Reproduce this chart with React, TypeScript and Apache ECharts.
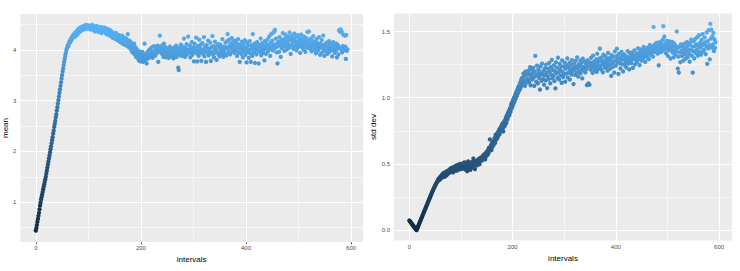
import React, { useEffect, useRef } from "react";
import * as echarts from "echarts";

// ---- data ----
const meanValues: number[] = [
  0.44,0.49,0.55,0.61,0.67,0.73,0.79,0.86,0.93,0.99,
  1.05,1.10,1.15,1.20,1.25,1.30,1.35,1.40,1.45,1.50,
  1.56,1.62,1.68,1.74,1.80,1.86,1.92,1.98,2.04,2.10,
  2.16,2.22,2.28,2.35,2.41,2.48,2.54,2.60,2.67,2.73,
  2.80,2.87,2.94,3.01,3.08,3.15,3.22,3.29,3.36,3.43,
  3.50,3.57,3.63,3.70,3.76,3.82,3.88,3.93,3.98,4.02,
  4.05,4.09,4.07,4.13,4.16,4.14,4.20,4.22,4.19,4.25,
  4.27,4.24,4.30,4.29,4.33,4.26,4.35,4.32,4.37,4.30,
  4.38,4.41,4.34,4.40,4.43,4.36,4.42,4.45,4.39,4.44,
  4.46,4.40,4.47,4.43,4.48,4.41,4.49,4.44,4.46,4.42,
  4.48,4.45,4.43,4.47,4.40,4.46,4.44,4.49,4.42,4.45,
  4.38,4.46,4.43,4.36,4.44,4.41,4.47,4.39,4.42,4.35,
  4.43,4.40,4.37,4.45,4.41,4.33,4.39,4.42,4.36,4.44,
  4.40,4.35,4.43,4.38,4.31,4.41,4.37,4.34,4.40,4.29,
  4.36,4.33,4.38,4.27,4.35,4.31,4.24,4.34,4.29,4.32,
  4.22,4.30,4.27,4.33,4.20,4.28,4.25,4.18,4.29,4.23,
  4.26,4.15,4.24,4.20,4.28,4.12,4.21,4.17,4.24,4.10,
  4.19,4.14,4.22,4.08,4.16,4.31,4.11,4.05,4.18,4.13,
  4.02,4.15,4.08,3.96,4.10,4.04,3.93,4.12,3.98,3.90,
  4.05,3.86,3.95,4.00,3.84,3.92,3.79,3.97,3.88,3.77,
  3.93,3.82,3.86,3.96,3.76,3.89,3.84,4.12,3.91,3.80,
  3.87,3.73,3.95,3.88,3.83,3.99,3.90,3.86,4.02,3.93,
  3.89,4.05,3.84,3.97,3.92,4.07,3.95,3.88,4.00,4.04,
  3.93,3.98,4.08,3.76,4.01,3.96,4.28,4.06,3.99,4.03,
  3.92,4.09,4.01,3.86,4.12,3.97,3.91,4.05,3.85,3.94,
  3.89,4.02,3.95,3.84,3.99,4.06,3.88,3.93,4.03,3.87,
  3.96,4.00,3.83,3.98,4.05,3.90,3.94,4.08,3.86,4.01,
  3.92,3.65,3.60,4.04,3.97,3.89,4.10,3.95,4.02,3.88,
  4.06,3.93,4.22,3.99,3.86,4.04,3.96,4.11,3.91,4.00,
  4.26,3.94,3.98,4.08,3.85,4.03,3.95,4.15,3.90,3.99,
  4.05,3.77,4.12,3.96,4.02,4.24,3.93,3.77,4.07,3.98,
  3.88,4.20,4.04,3.95,4.10,3.78,3.99,4.13,3.92,4.01,
  4.25,3.87,4.06,3.97,3.76,4.09,3.94,4.03,4.18,3.89,
  4.00,3.93,4.14,3.78,4.05,3.96,4.27,3.91,4.07,3.85,
  4.02,4.16,3.94,3.99,3.80,4.08,3.95,4.11,3.90,4.04,
  3.87,4.10,3.97,4.03,3.92,4.21,3.98,3.86,4.06,4.00,
  3.93,4.14,4.05,3.89,4.17,4.31,4.02,3.96,4.20,4.08,
  3.91,4.12,4.04,4.23,3.97,4.15,4.01,4.09,3.94,4.18,
  4.06,3.99,4.13,3.88,4.03,4.21,3.95,4.10,3.76,4.02,
  4.07,3.92,4.16,4.00,3.85,4.11,3.97,4.05,4.19,3.90,
  4.03,3.75,4.14,3.96,4.08,3.84,4.00,4.17,3.93,3.76,
  4.09,4.02,3.88,4.31,4.05,3.95,4.12,3.74,4.01,4.07,
  3.91,4.15,4.04,3.98,3.73,4.10,3.96,4.06,4.22,3.89,
  4.01,4.13,3.94,4.08,4.00,3.79,4.17,4.03,3.92,4.11,
  4.05,4.20,3.97,4.09,4.26,4.02,3.88,4.14,4.31,4.06,
  4.18,3.99,4.34,4.10,4.36,4.39,4.04,4.22,3.95,4.12,
  3.73,4.07,4.16,3.96,4.25,4.09,3.86,4.19,4.03,4.13,
  4.33,4.06,4.21,3.98,4.15,4.30,4.08,4.24,4.01,4.17,
  4.11,4.26,4.04,4.34,4.19,3.92,4.22,4.09,4.28,4.14,
  4.02,4.20,4.32,4.07,4.16,4.25,3.99,4.12,4.29,4.05,
  4.18,4.10,4.23,3.94,4.15,4.30,4.06,4.21,4.11,4.01,
  4.26,4.08,4.17,3.96,4.24,4.13,4.04,4.35,4.19,4.07,
  4.36,4.14,4.02,4.22,4.09,3.97,4.18,4.06,4.27,4.11,
  4.00,4.15,4.08,3.93,4.21,4.04,4.13,3.98,4.10,4.25,
  4.03,3.90,4.12,4.06,4.19,3.95,4.08,4.28,4.01,3.88,
  4.10,4.04,3.97,4.14,4.07,3.92,4.11,4.02,4.17,3.96,
  4.06,4.13,3.99,4.09,3.87,4.03,4.15,4.00,4.08,3.94,
  4.05,3.98,4.12,3.85,4.02,4.09,3.91,4.38,4.04,4.35,
  4.40,4.01,4.36,3.95,4.07,4.30,3.99,4.03,4.28,4.06,
  3.82,4.29,3.98,4.01,
];

const sdValues: number[] = [
  0.073,0.068,0.063,0.057,0.052,0.047,0.042,0.037,0.031,0.026,
  0.021,0.016,0.010,0.005,0.000,0.010,0.019,0.029,0.038,0.048,
  0.057,0.067,0.076,0.086,0.095,0.105,0.114,0.124,0.133,0.143,
  0.152,0.162,0.171,0.181,0.190,0.200,0.209,0.219,0.228,0.238,
  0.247,0.257,0.266,0.276,0.285,0.295,0.303,0.312,0.320,0.328,
  0.336,0.344,0.352,0.358,0.367,0.372,0.385,0.376,0.392,0.398,
  0.384,0.405,0.412,0.396,0.421,0.408,0.430,0.418,0.402,0.435,
  0.424,0.441,0.413,0.437,0.448,0.426,0.452,0.433,0.445,0.462,
  0.438,0.455,0.471,0.447,0.459,0.436,0.466,0.480,0.452,0.470,
  0.461,0.487,0.449,0.476,0.493,0.466,0.482,0.458,0.500,0.473,
  0.488,0.462,0.495,0.478,0.505,0.469,0.484,0.512,0.458,0.491,
  0.476,0.503,0.445,0.488,0.520,0.467,0.495,0.482,0.455,0.509,
  0.490,0.472,0.515,0.498,0.541,0.483,0.506,0.461,0.521,0.495,
  0.512,0.489,0.528,0.504,0.537,0.516,0.498,0.545,0.523,0.532,
  0.551,0.527,0.544,0.563,0.538,0.572,0.549,0.535,0.581,0.560,
  0.592,0.566,0.603,0.578,0.621,0.597,0.685,0.612,0.640,0.604,
  0.655,0.628,0.671,0.643,0.662,0.695,0.658,0.720,0.681,0.704,
  0.731,0.697,0.742,0.718,0.760,0.726,0.771,0.749,0.785,0.755,
  0.802,0.768,0.745,0.815,0.783,0.830,0.796,0.852,0.812,0.868,
  0.836,0.885,0.858,0.902,0.871,0.921,0.893,0.948,0.917,0.965,
  0.936,0.984,0.958,1.003,0.975,1.021,0.994,1.042,1.012,1.060,
  1.031,1.078,1.048,1.095,1.062,1.117,1.080,1.138,1.096,1.152,
  1.108,1.183,1.122,1.164,1.090,1.198,1.135,1.172,1.115,1.190,
  1.142,1.205,1.118,1.176,1.231,1.094,1.163,1.212,1.138,1.187,
  1.225,1.152,1.089,1.198,1.316,1.167,1.121,1.243,1.176,1.108,
  1.214,1.149,1.195,1.062,1.236,1.172,1.127,1.258,1.183,1.141,
  1.206,1.098,1.169,1.224,1.131,1.250,1.188,1.073,1.162,1.217,
  1.139,1.263,1.195,1.108,1.232,1.174,1.286,1.147,1.211,1.166,
  1.245,1.125,1.199,1.071,1.268,1.184,1.227,1.150,1.302,1.193,
  1.138,1.256,1.211,1.169,1.238,1.112,1.282,1.197,1.156,1.234,
  1.178,1.265,1.121,1.219,1.246,1.183,1.297,1.152,1.230,1.192,
  1.264,1.137,1.212,1.249,1.175,1.284,1.198,1.226,1.103,1.258,
  1.215,1.173,1.278,1.236,1.189,1.305,1.221,1.160,1.252,1.197,
  1.240,1.281,1.184,1.262,1.218,1.146,1.295,1.233,1.206,1.272,
  1.225,1.191,1.258,1.215,1.095,1.283,1.237,1.108,1.269,1.098,
  1.246,1.212,1.301,1.229,1.264,1.187,1.318,1.241,1.273,1.206,
  1.258,1.225,1.289,1.196,1.332,1.247,1.270,1.219,1.296,1.370,
  1.238,1.281,1.213,1.305,1.257,1.192,1.326,1.245,1.279,1.228,
  1.312,1.262,1.231,1.294,1.204,1.338,1.271,1.247,1.300,1.219,
  1.286,1.165,1.322,1.259,1.232,1.308,1.270,1.189,1.349,1.281,
  1.243,1.315,1.370,1.267,1.296,1.180,1.331,1.262,1.300,1.221,
  1.284,1.346,1.254,1.318,1.199,1.290,1.327,1.247,1.305,1.272,
  1.230,1.311,1.283,1.352,1.258,1.298,1.214,1.336,1.275,1.310,
  1.262,1.340,1.289,1.226,1.321,1.297,1.358,1.251,1.316,1.283,
  1.335,1.268,1.304,1.373,1.290,1.322,1.247,1.347,1.310,1.365,
  1.281,1.329,1.356,1.298,1.384,1.316,1.342,1.270,1.361,1.325,
  1.350,1.303,1.378,1.336,1.291,1.362,1.398,1.324,1.355,1.387,
  1.339,1.371,1.310,1.534,1.365,1.402,1.347,1.380,1.358,1.415,
  1.376,1.332,1.395,1.245,1.361,1.420,1.383,1.344,1.408,1.371,
  1.354,1.438,1.540,1.390,1.462,1.367,1.412,1.336,1.385,1.430,
  1.372,1.315,1.401,1.357,1.425,1.383,1.296,1.398,1.364,1.421,
  1.341,1.387,1.305,1.410,1.359,1.326,1.392,1.348,1.500,1.375,
  1.220,1.310,1.190,1.384,1.342,1.268,1.403,1.356,1.315,1.390,
  1.347,1.281,1.371,1.409,1.328,1.295,1.382,1.349,1.420,1.306,
  1.365,1.398,1.330,1.272,1.411,1.357,1.438,1.318,1.384,1.190,
  1.352,1.426,1.297,1.389,1.445,1.336,1.402,1.363,1.458,1.318,
  1.390,1.472,1.345,1.413,1.378,1.325,1.436,1.395,1.481,1.350,
  1.404,1.362,1.455,1.418,1.330,1.389,1.493,1.256,1.427,1.372,
  1.510,1.398,1.290,1.558,1.446,1.515,1.379,1.463,1.402,1.490,
  1.352,1.441,1.376,1.420,
];

const intervals: number[] = meanValues.map((_, i) => i);

const xTicks = [0, 200, 400, 600];
const xMinor = [100, 300, 500];
const meanTicks = [1, 2, 3, 4];
const meanMinor = [0.5, 1.5, 2.5, 3.5, 4.5];
const sdTicks = [0, 0.5, 1.0, 1.5];
const sdMinor = [0.25, 0.75, 1.25];

const xTitle = "intervals";
const meanTitle = "mean";
const sdTitle = "std dev";

const gradient = ["#132B43", "#336A98", "#56B1F7"];
const FONT = "'Liberation Sans', Arial, Helvetica, sans-serif";

function gridLines(xMajor: number[], xMin: number[], yMajor: number[], yMin: number[]) {
  const major = { color: "#FFFFFF", width: 1.1, type: "solid" as const };
  const minor = { color: "#FFFFFF", width: 0.55, type: "solid" as const };
  return [
    ...xMin.map((v) => ({ xAxis: v, lineStyle: minor })),
    ...yMin.map((v) => ({ yAxis: v, lineStyle: minor })),
    ...xMajor.map((v) => ({ xAxis: v, lineStyle: major })),
    ...yMajor.map((v) => ({ yAxis: v, lineStyle: major })),
  ];
}

function axisCommon(ticks: number[], labelFmt: (v: number) => string, margin: number) {
  return {
    axisLine: { show: false },
    splitLine: { show: false },
    axisTick: {
      show: true,
      length: 2.5,
      customValues: ticks,
      lineStyle: { color: "#333333", width: 0.7 },
    },
    axisLabel: {
      customValues: ticks,
      color: "#4D4D4D",
      fontSize: 6,
      fontFamily: FONT,
      margin,
      formatter: (v: number) => labelFmt(v),
    },
  };
}

export default function App() {
  const ref = useRef<HTMLDivElement>(null);
  useEffect(() => {
    if (!ref.current) return;
    const chart = echarts.init(ref.current, undefined, { renderer: "svg" });
    const meanData = intervals.map((x, i) => [x, meanValues[i]]);
    const sdData = intervals.map((x, i) => [x, sdValues[i]]);
    const nameStyle = { color: "#000000", fontSize: 8, fontFamily: FONT };
    const option: any = {
      animation: false,
      backgroundColor: "#FFFFFF",
      textStyle: { fontFamily: FONT },
      grid: [
        { left: 15, top: 14, width: 348, height: 228, show: true, backgroundColor: "#EBEBEB", borderWidth: 0 },
        { left: 394, top: 13.5, width: 338, height: 227, show: true, backgroundColor: "#EBEBEB", borderWidth: 0 },
      ],
      xAxis: [
        {
          gridIndex: 0, type: "value", min: -29.65, max: 622.65,
          name: xTitle, nameLocation: "middle", nameGap: 11, nameTextStyle: nameStyle,
          ...axisCommon(xTicks, (v) => String(v), 3),
        },
        {
          gridIndex: 1, type: "value", min: -29.7, max: 625,
          name: xTitle, nameLocation: "middle", nameGap: 12, nameTextStyle: nameStyle,
          ...axisCommon(xTicks, (v) => String(v), 3),
        },
      ],
      yAxis: [
        {
          gridIndex: 0, type: "value", min: 0.2155, max: 4.7045,
          name: meanTitle, nameLocation: "middle", nameGap: 7.5, nameTextStyle: nameStyle,
          ...axisCommon(meanTicks, (v) => String(v), 4),
        },
        {
          gridIndex: 1, type: "value", min: -0.078, max: 1.636,
          name: sdTitle, nameLocation: "middle", nameGap: 13, nameTextStyle: nameStyle,
          ...axisCommon(sdTicks, (v) => v.toFixed(1), 4),
        },
      ],
      visualMap: [
        {
          type: "continuous", show: false, seriesIndex: 0, dimension: 1,
          min: Math.min(...meanValues), max: Math.max(...meanValues),
          inRange: { color: gradient },
        },
        {
          type: "continuous", show: false, seriesIndex: 1, dimension: 1,
          min: Math.min(...sdValues), max: Math.max(...sdValues),
          inRange: { color: gradient },
        },
      ],
      series: [
        {
          type: "scatter", xAxisIndex: 0, yAxisIndex: 0, data: meanData,
          symbolSize: 4.3, z: 3, silent: true, itemStyle: { opacity: 1 },
          markLine: {
            silent: true, symbol: "none", z: 1, animation: false,
            label: { show: false },
            data: gridLines(xTicks, xMinor, meanTicks, meanMinor),
          },
        },
        {
          type: "scatter", xAxisIndex: 1, yAxisIndex: 1, data: sdData,
          symbolSize: 4.3, z: 3, silent: true, itemStyle: { opacity: 1 },
          markLine: {
            silent: true, symbol: "none", z: 1, animation: false,
            label: { show: false },
            data: gridLines(xTicks, xMinor, sdTicks, sdMinor),
          },
        },
      ],
    };
    chart.setOption(option);
    return () => chart.dispose();
  }, []);
  return (
    <div
      ref={ref}
      style={{ position: "absolute", left: 0, top: 0, width: 740, height: 271 }}
    />
  );
}
